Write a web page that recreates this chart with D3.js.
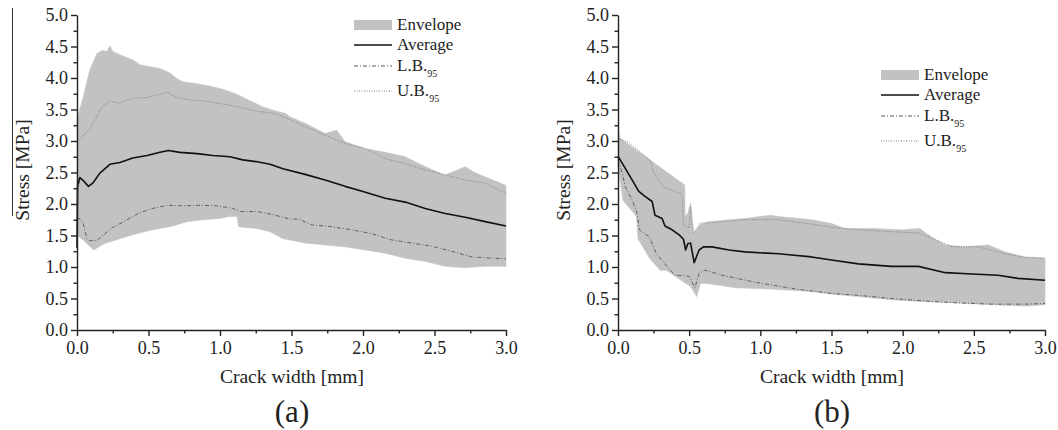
<!DOCTYPE html>
<html>
<head>
<meta charset="utf-8">
<script src="https://cdnjs.cloudflare.com/ajax/libs/d3/7.8.5/d3.min.js"></script>
<style>
  body { margin: 0; background: #fff; }
  svg { display: block; font-family: "Liberation Serif", "Times New Roman", serif; }
  .axis path, .axis line { stroke: #222; stroke-width: 1.4; }
  .axis text { font-size: 18px; fill: #222; font-family: "Liberation Serif", "Times New Roman", serif; }
  .label { font-size: 19.5px; fill: #222; }
  .panel { font-size: 31px; fill: #222; }
  .legend text { font-size: 17px; fill: #222; }
</style>
</head>
<body>
<svg id="chart" width="1058" height="430"></svg>
<script>

// ticks
var xTicks = [0, 0.5, 1.0, 1.5, 2.0, 2.5, 3.0];
var xMinor = [0.25, 0.75, 1.25, 1.75, 2.25, 2.75];
var yTicks = [0, 0.5, 1.0, 1.5, 2.0, 2.5, 3.0, 3.5, 4.0, 4.5, 5.0];
var yMinor = [0.25, 0.75, 1.25, 1.75, 2.25, 2.75, 3.25, 3.75, 4.25, 4.75];

var legendNames = ["Envelope", "Average", "L.B.", "U.B."];

// (a) - crack width [mm], stress [MPa]
var aEnvTop = [[0,3.35],[0.044,3.70],[0.09,4.13],[0.14,4.39],[0.18,4.44],[0.21,4.42],[0.23,4.51],[0.25,4.42],[0.28,4.39],[0.33,4.34],[0.39,4.29],[0.44,4.21],[0.51,4.18],[0.58,4.15],[0.65,4.08],[0.70,3.99],[0.74,3.94],[0.84,3.91],[0.93,3.87],[1.02,3.82],[1.12,3.74],[1.21,3.64],[1.30,3.54],[1.40,3.47],[1.455,3.44],[1.49,3.38],[1.595,3.28],[1.735,3.12],[1.815,3.17],[1.875,2.99],[2.015,2.88],[2.155,2.82],[2.295,2.75],[2.435,2.59],[2.575,2.46],[2.715,2.59],[2.78,2.50],[2.855,2.43],[2.995,2.30],[3.0,2.28]];
var aEnvBot = [[0,1.50],[0.044,1.43],[0.116,1.27],[0.19,1.37],[0.30,1.45],[0.42,1.53],[0.53,1.59],[0.65,1.64],[0.77,1.72],[0.88,1.75],[1.00,1.77],[1.06,1.80],[1.12,1.80],[1.13,1.64],[1.26,1.61],[1.35,1.56],[1.44,1.45],[1.49,1.43],[1.595,1.38],[1.735,1.35],[1.875,1.32],[2.015,1.27],[2.155,1.22],[2.295,1.14],[2.435,1.09],[2.575,1.01],[2.715,0.99],[2.855,1.01],[3.0,1.01]];
var aAvg = [[0,1.30],[0.004,2.30],[0.01,2.33],[0.02,2.42],[0.04,2.38],[0.08,2.28],[0.11,2.33],[0.16,2.49],[0.23,2.63],[0.30,2.66],[0.39,2.73],[0.49,2.77],[0.58,2.82],[0.64,2.85],[0.72,2.82],[0.84,2.80],[0.95,2.77],[1.07,2.75],[1.16,2.70],[1.26,2.67],[1.35,2.63],[1.44,2.56],[1.595,2.47],[1.735,2.38],[1.875,2.28],[2.0,2.20],[2.155,2.09],[2.295,2.03],[2.435,1.93],[2.575,1.85],[2.715,1.79],[2.855,1.72],[3.0,1.65]];
var aUB = [[0,2.99],[0.044,3.09],[0.09,3.20],[0.14,3.39],[0.18,3.55],[0.23,3.63],[0.30,3.60],[0.39,3.68],[0.49,3.69],[0.56,3.73],[0.63,3.77],[0.70,3.69],[0.79,3.65],[0.88,3.64],[0.98,3.60],[1.07,3.57],[1.16,3.52],[1.26,3.47],[1.35,3.45],[1.44,3.39],[1.595,3.23],[1.735,3.09],[1.875,2.96],[2.015,2.88],[2.155,2.72],[2.295,2.64],[2.435,2.54],[2.575,2.46],[2.715,2.38],[2.855,2.33],[3.0,2.17]];
var aLB = [[0,1.75],[0.02,1.77],[0.044,1.69],[0.07,1.45],[0.09,1.42],[0.14,1.42],[0.18,1.50],[0.25,1.63],[0.32,1.71],[0.42,1.84],[0.51,1.92],[0.63,1.98],[0.74,1.97],[0.86,1.98],[0.98,1.97],[1.09,1.93],[1.14,1.88],[1.26,1.88],[1.37,1.83],[1.49,1.76],[1.55,1.76],[1.64,1.67],[1.78,1.64],[1.92,1.59],[2.06,1.53],[2.20,1.43],[2.34,1.38],[2.48,1.33],[2.62,1.25],[2.76,1.16],[2.90,1.14],[3.0,1.13]];

// (b)
var bEnvTop = [[0,3.05],[0.003,3.20],[0.01,3.05],[0.469,2.30],[0.472,1.80],[0.49,1.85],[0.51,2.02],[0.53,1.53],[0.58,1.68],[0.64,1.72],[0.89,1.77],[1.07,1.82],[1.13,1.80],[1.36,1.75],[1.50,1.69],[1.595,1.61],[1.80,1.61],[1.99,1.59],[2.12,1.61],[2.20,1.48],[2.30,1.35],[2.44,1.32],[2.60,1.35],[2.72,1.24],[2.86,1.16],[3.0,1.14]];
var bEnvBot = [[0,2.60],[0.02,2.30],[0.035,2.06],[0.13,1.80],[0.14,1.45],[0.225,1.13],[0.295,0.95],[0.34,0.95],[0.436,0.80],[0.51,0.69],[0.553,0.53],[0.58,0.74],[0.62,0.74],[0.83,0.67],[1.07,0.65],[1.36,0.61],[1.5,0.57],[1.69,0.53],[1.92,0.48],[2.16,0.45],[2.39,0.43],[2.63,0.40],[2.86,0.38],[3.0,0.40]];
var bAvg = [[0,2.76],[0.05,2.57],[0.10,2.38],[0.146,2.20],[0.19,2.12],[0.24,2.04],[0.26,1.82],[0.31,1.77],[0.33,1.65],[0.38,1.59],[0.43,1.51],[0.46,1.44],[0.475,1.27],[0.49,1.37],[0.51,1.38],[0.535,1.07],[0.57,1.27],[0.60,1.32],[0.66,1.32],[0.78,1.27],[0.89,1.24],[1.13,1.21],[1.36,1.16],[1.5,1.11],[1.69,1.05],[1.92,1.01],[2.11,1.01],[2.30,0.91],[2.49,0.89],[2.67,0.87],[2.81,0.82],[3.0,0.79]];
var bUB = [[0,3.05],[0.08,2.97],[0.225,2.70],[0.25,2.49],[0.32,2.27],[0.38,2.22],[0.45,2.15],[0.46,1.67],[0.50,1.62],[0.51,1.95],[0.53,1.54],[0.58,1.70],[0.64,1.70],[0.89,1.75],[1.13,1.75],[1.36,1.68],[1.5,1.63],[1.69,1.59],[1.92,1.56],[2.11,1.54],[2.23,1.43],[2.35,1.32],[2.53,1.32],[2.72,1.21],[2.86,1.15],[3.0,1.14]];
var bLB = [[0,2.70],[0.03,2.49],[0.05,2.28],[0.10,2.06],[0.135,1.85],[0.15,1.59],[0.22,1.48],[0.27,1.21],[0.31,1.10],[0.40,0.87],[0.48,0.86],[0.50,0.85],[0.54,0.67],[0.57,0.90],[0.61,0.95],[0.73,0.87],[0.96,0.76],[1.25,0.65],[1.5,0.58],[1.69,0.55],[1.92,0.50],[2.16,0.46],[2.39,0.43],[2.63,0.41],[2.86,0.41],[3.0,0.42]];


var svg = d3.select("#chart");

svg.append("rect")
    .attr("width", 1058)
    .attr("height", 430)
    .attr("fill", "#fff")

// stray rule at the far left of the scan
svg.append("line")
    .attr("x1", 12.5).attr("x2", 12.5)
    .attr("y1", 8).attr("y2", 216)
    .attr("stroke", "#333")
    .attr("stroke-width", 1)

var styles = {
    avg: { stroke: "#111", width: 1.6, dash: null },
    lb: { stroke: "#555", width: 0.9, dash: "4,2,1,2" },
    ub: { stroke: "#777", width: 0.9, dash: "1,1.5" }
};

function drawPanel(p) {

    var x = d3.scaleLinear().domain([0, 3]).range([p.left, p.right]),
        y = d3.scaleLinear().domain([0, 5]).range([330, 15]);

    var line = d3.line()
        .x(function (d) { return x(d[0]); })
        .y(function (d) { return y(d[1]); });

    var g = svg.append("g");

    // envelope
    g.append("path")
        .datum(p.envTop.concat(p.envBot.slice().reverse()))
        .attr("d", function (d) { return line(d) + "Z"; })
        .attr("fill", "#c2c2c2")
        .attr("stroke", "#c2c2c2")
        .attr("stroke-width", 0.6)

    g.append("path").datum(p.ub).attr("d", line)
        .attr("fill", "none")
        .attr("stroke", styles.ub.stroke)
        .attr("stroke-width", styles.ub.width)
        .attr("stroke-dasharray", styles.ub.dash)

    g.append("path").datum(p.lb).attr("d", line)
        .attr("fill", "none")
        .attr("stroke", styles.lb.stroke)
        .attr("stroke-width", styles.lb.width)
        .attr("stroke-dasharray", styles.lb.dash)

    g.append("path").datum(p.avg).attr("d", line)
        .attr("fill", "none")
        .attr("stroke", styles.avg.stroke)
        .attr("stroke-width", styles.avg.width)
        .attr("stroke-linejoin", "round")

    // axes
    g.append("g")
        .attr("class", "axis")
        .attr("transform", "translate(0,330)")
        .call(d3.axisBottom(x).tickValues(xTicks).tickSize(6).tickSizeOuter(0).tickPadding(5).tickFormat(d3.format(".1f")))

    g.append("g")
        .attr("class", "axis minor")
        .attr("transform", "translate(0,330)")
        .call(d3.axisBottom(x).tickValues(xMinor).tickSize(3.5).tickSizeOuter(0).tickFormat(""))
        .select(".domain").remove()

    g.append("g")
        .attr("class", "axis")
        .attr("transform", "translate(" + p.left + ",0)")
        .call(d3.axisLeft(y).tickValues(yTicks).tickSize(6).tickSizeOuter(0).tickPadding(3).tickFormat(d3.format(".1f")))

    g.append("g")
        .attr("class", "axis minor")
        .attr("transform", "translate(" + p.left + ",0)")
        .call(d3.axisLeft(y).tickValues(yMinor).tickSize(3.5).tickSizeOuter(0).tickFormat(""))
        .select(".domain").remove()

    // titles
    g.append("text")
        .attr("class", "label")
        .attr("text-anchor", "middle")
        .attr("transform", "translate(" + (p.left - 48) + ",170) rotate(-90)")
        .text("Stress [MPa]")

    g.append("text")
        .attr("class", "label")
        .attr("text-anchor", "middle")
        .attr("x", (p.left + p.right) / 2 + 0.5)
        .attr("y", 383)
        .text("Crack width [mm]")

    g.append("text")
        .attr("class", "panel")
        .attr("text-anchor", "middle")
        .attr("x", (p.left + p.right) / 2 + 0.5)
        .attr("y", 422)
        .text(p.name)

    // legend
    var lg = g.append("g")
        .attr("class", "legend")
        .attr("transform", "translate(" + p.legX + "," + p.legY + ")")

    var rows = [0, 20, 41, 66];

    lg.append("rect")
        .attr("x", 0).attr("y", rows[0] - 5)
        .attr("width", 38).attr("height", 10)
        .attr("fill", "#c2c2c2")

    var keys = [null, "avg", "lb", "ub"];
    keys.forEach(function (k, i) {
        if (!k) return;
        lg.append("line")
            .attr("x1", 0).attr("x2", 38)
            .attr("y1", rows[i]).attr("y2", rows[i])
            .attr("stroke", styles[k].stroke)
            .attr("stroke-width", k === "avg" ? 1.6 : 1)
            .attr("stroke-dasharray", styles[k].dash)
    })

    legendNames.forEach(function (name, i) {
        var t = lg.append("text")
            .attr("x", 43)
            .attr("y", rows[i] + 5)
            .text(name)
        if (i >= 2) {
            t.append("tspan")
                .attr("dy", 6)
                .style("font-size", "10px")
                .text("95")
        }
    })
}

drawPanel({ name: "(a)", left: 77, right: 506, legX: 354, legY: 25,
            envTop: aEnvTop, envBot: aEnvBot, avg: aAvg, ub: aUB, lb: aLB });

drawPanel({ name: "(b)", left: 618, right: 1045, legX: 881, legY: 75,
            envTop: bEnvTop, envBot: bEnvBot, avg: bAvg, ub: bUB, lb: bLB });

</script>
</body>
</html>
